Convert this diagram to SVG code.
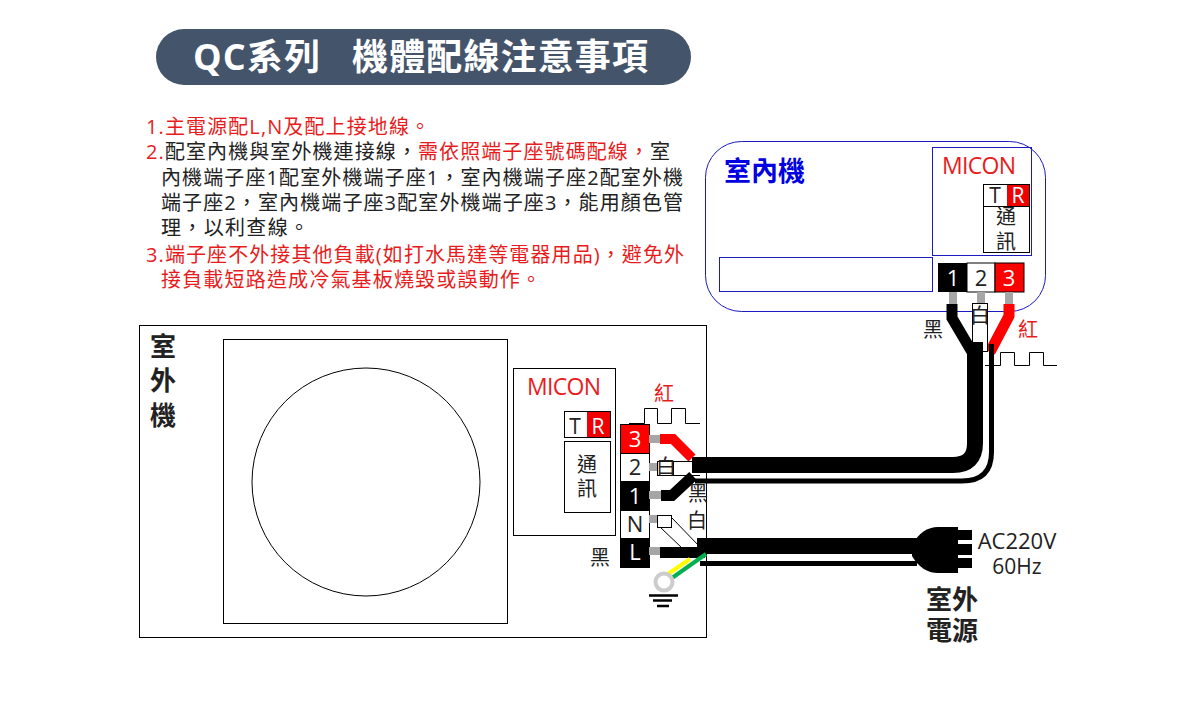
<svg xmlns="http://www.w3.org/2000/svg" width="1180" height="720" viewBox="0 0 1180 720">
<style>
text{font-family:"Open Sans","Noto Sans CJK TC",sans-serif;fill:#222}
.cjk{font-family:"Noto Sans CJK TC","Open Sans",sans-serif}
.body{font-size:20px}
.r{fill:#e81c1c}
.m{text-anchor:middle}
.lab{font-size:20px;text-anchor:middle}
.box{fill:#fff;stroke:#000;stroke-width:1}
.blu{fill:none;stroke:#1a1ac0;stroke-width:1}
.stub{fill:#a6a6a6}
.w{fill:none;stroke:#000;stroke-linejoin:miter}
.term{font-size:22px;text-anchor:middle}
.tt{font-size:36px;font-weight:700;fill:#fff}
</style>
<g id="title">
<rect x="156" y="29" width="535" height="56" rx="28" fill="#44546a"/>
<text x="193" y="70" class="tt" textLength="127">QC系列</text>
<text x="352" y="70" class="tt" textLength="296">機體配線注意事項</text>
</g>
<g id="notes">
<text x="146" y="134" class="r body" textLength="284">1.主電源配L,N及配上接地線。</text>
<text x="146" y="159" class="body" textLength="524"><tspan class="r">2.</tspan>配室內機與室外機連接線&#65292;<tspan class="r">需依照端子座號碼配線&#65292;</tspan>室</text>
<text x="161" y="185" class="body" textLength="522">內機端子座1配室外機端子座1&#65292;室內機端子座2配室外機</text>
<text x="161" y="210" class="body" textLength="522">端子座2&#65292;室內機端子座3配室外機端子座3&#65292;能用顏色管</text>
<text x="161" y="235" class="body" textLength="148">理&#65292;以利查線。</text>
<text x="146" y="262" class="r body" textLength="538">3.端子座不外接其他負載(如打水馬達等電器用品)&#65292;避免外</text>
<text x="161" y="287" class="r body" textLength="380">接負載短路造成冷氣基板燒毀或誤動作。</text>
</g>
<g id="indoor">
<rect x="705.500" y="141.500" width="340" height="170" rx="36" class="blu"/>
<text x="724" y="181" font-size="27" font-weight="700" style="fill:#0000e0" class="cjk">室內機</text>
<rect x="719.500" y="257.500" width="213" height="34" class="blu"/>
</g>
<g id="indoor-micon">
<rect x="932.500" y="147.500" width="99" height="108" class="blu"/>
<text x="942" y="174" font-size="23" class="r" textLength="74">MICON</text>
<rect x="983.500" y="184.500" width="46" height="68" class="box"/>
<rect x="1007" y="185" width="22" height="21" fill="#f00000"/>
<line x1="983" y1="206.500" x2="1029" y2="206.500" stroke="#000"/>
<text x="995" y="203" font-size="21" class="m">T</text>
<text x="1018" y="203" font-size="21" class="m" style="fill:#fff">R</text>
<text x="1006" y="224" class="lab">通</text>
<text x="1006" y="249" class="lab">訊</text>
</g>
<g id="indoor-terminal">
<rect x="938" y="263" width="29" height="29" fill="#000"/>
<rect x="967" y="263" width="28" height="29" fill="#fff" stroke="#000"/>
<rect x="995" y="263" width="29" height="29" fill="#ff0000" stroke="#000"/>
<text x="953" y="286" class="term" style="fill:#fff">1</text>
<text x="981" y="286" class="term">2</text>
<text x="1009" y="286" class="term" style="fill:#fff">3</text>
</g>
<g id="outdoor">
<rect x="139.500" y="325.500" width="567" height="312" fill="none" stroke="#000"/>
<rect x="223.500" y="339.500" width="284" height="284" fill="none" stroke="#000"/>
<circle cx="366" cy="482" r="114" fill="none" stroke="#000"/>
<text x="163" y="356" font-size="26" font-weight="700" class="m cjk">室</text>
<text x="163" y="390" font-size="26" font-weight="700" class="m cjk">外</text>
<text x="163" y="425" font-size="26" font-weight="700" class="m cjk">機</text>
</g>
<g id="outdoor-micon">
<rect x="513.500" y="368.500" width="102" height="167" fill="none" stroke="#000"/>
<text x="527" y="395" font-size="23" class="r" textLength="74">MICON</text>
<rect x="564.500" y="411.500" width="46" height="26" class="box"/>
<rect x="587" y="412" width="23" height="25" fill="#f00000"/>
<text x="575" y="434" font-size="21" class="m">T</text>
<text x="598" y="434" font-size="21" class="m" style="fill:#fff">R</text>
<rect x="564.500" y="441.500" width="46" height="71" class="box"/>
<text x="587" y="472" class="lab">通</text>
<text x="587" y="496" class="lab">訊</text>
</g>
<g id="outdoor-terminal">
<rect x="620.500" y="424.500" width="29" height="29" fill="#ff0000" stroke="#000"/>
<rect x="620.500" y="453.500" width="29" height="28" fill="#fff" stroke="#000"/>
<rect x="620.500" y="481.500" width="29" height="29" fill="#000" stroke="#000"/>
<rect x="620.500" y="510.500" width="29" height="28" fill="#fff" stroke="#000"/>
<rect x="620.500" y="538.500" width="29" height="29" fill="#000" stroke="#000"/>
<text x="635" y="447" class="term" style="fill:#fff">3</text>
<text x="635" y="475" class="term">2</text>
<text x="635" y="504" class="term" style="fill:#fff">1</text>
<text x="635" y="532" class="term">N</text>
<text x="635" y="560" class="term" style="fill:#fff">L</text>
</g>
<g id="connectors">
<g class="stub">
<rect x="949" y="292" width="8" height="12"/><rect x="977" y="292" width="8" height="12"/><rect x="1005" y="292" width="8" height="12"/>
<rect x="649" y="435" width="11" height="8"/><rect x="649" y="463" width="11" height="8"/><rect x="649" y="491" width="12" height="8"/><rect x="649" y="515" width="9" height="8"/><rect x="649" y="547" width="11" height="8"/>
</g>
<polyline points="1009,304 1009,316 990,352" class="w" stroke-width="11" style="stroke:#ff0000"/>
<rect x="972.500" y="303.500" width="15" height="48" fill="#fff" stroke="#000"/>
<polyline points="952,304 952,318 975,357" class="w" stroke-width="11"/>
<path d="M695 481H962Q991.500 481 991.500 452V344" class="w" stroke-width="5"/>
<path d="M692 465H953Q975 465 975 443V342" class="w" stroke-width="16"/>
<polyline points="660,439 673,439 692,458" class="w" stroke-width="10" style="stroke:#ff0000"/>
<polyline points="661,495.500 672,495.500 693,476" class="w" stroke-width="11"/>
<rect x="657.500" y="461.500" width="16" height="14" fill="#fff" stroke="#000"/>
<path d="M673 461.500H692M657.500 475.500H700" fill="none" stroke="#000"/>
<rect x="657.500" y="515.500" width="14" height="12" fill="#fff" stroke="#000"/>
<path d="M672 518L700 547M660 527L682 548" fill="none" stroke="#000"/>
<rect x="660" y="547" width="45" height="11"/>
<rect x="697" y="538" width="220" height="16"/>
<rect x="700" y="561" width="217" height="5"/>
<line x1="690" y1="559" x2="665" y2="576" stroke="#ffff00" stroke-width="4"/>
<line x1="706" y1="554" x2="672" y2="578" stroke="#00b050" stroke-width="4"/>
<circle cx="664" cy="582" r="8.500" fill="#fff" stroke="#ccc" stroke-width="4"/>
<path d="M649 595.500H678M653 600.500H672M657 606H669" fill="none" stroke="#000" stroke-width="2.500"/>
<polyline points="629,423.500 644.500,423.500 644.500,408.500 657.500,408.500 657.500,423.500 671.500,423.500 671.500,408.500 685.500,408.500 685.500,423.500 700,423.500" fill="none" stroke="#000"/>
<polyline points="985,365.500 1000.500,365.500 1000.500,352.500 1014.500,352.500 1014.500,365.500 1029.500,365.500 1029.500,352.500 1043.500,352.500 1043.500,365.500 1057,365.500" fill="none" stroke="#000"/>
</g>
<g id="plug">
<path d="M958 527H938Q922 527 912 545V556Q922 573 938 573H958Z"/>
<rect x="955" y="530" width="17" height="10"/>
<rect x="955" y="544" width="17" height="11"/>
<rect x="955" y="558" width="17" height="10"/>
</g>
<g id="labels">
<text x="664" y="401" class="lab r">紅</text>
<text x="666" y="474" class="lab">白</text>
<text x="698" y="501" class="lab">黑</text>
<text x="697" y="528" class="lab">白</text>
<text x="600" y="565" class="lab">黑</text>
<text x="933" y="337" class="lab">黑</text>
<text x="980" y="323" class="lab">白</text>
<text x="1028" y="337" class="lab r">紅</text>
<text x="1017" y="549" font-size="22" class="m">AC220V</text>
<text x="1017" y="574" font-size="21" class="m">60Hz</text>
<text x="952" y="609" font-size="26" font-weight="700" class="m cjk">室外</text>
<text x="952" y="640" font-size="26" font-weight="700" class="m cjk">電源</text>
</g>
</svg>
